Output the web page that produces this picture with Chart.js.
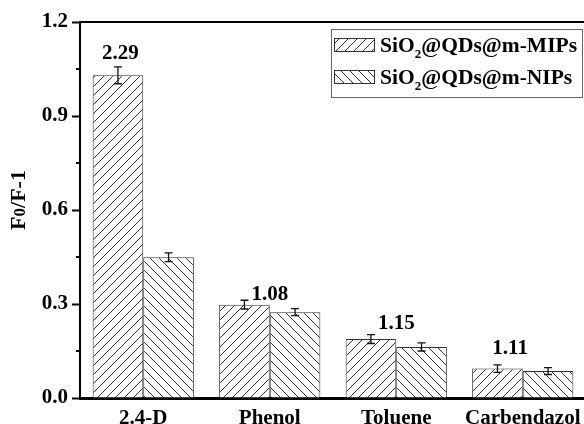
<!DOCTYPE html>
<html>
<head>
<meta charset="utf-8">
<script src="https://cdn.jsdelivr.net/npm/chart.js@4.4.0/dist/chart.umd.min.js"></script>
<style>
    html, body { margin: 0; padding: 0; background: #fff; overflow: hidden; }
    #wrap { width: 584px; height: 424px; overflow: hidden; }
    canvas { display: block; }
</style>
</head>
<body>
<div id="wrap"><canvas id="canvas" width="590" height="424"></canvas></div>
<script>
const categories = ["2.4-D", "Phenol", "Toluene", "Carbendazol"];
const mipValues = [1.03, 0.298, 0.188, 0.094];
const mipErrors = [0.027, 0.014, 0.014, 0.012];
const nipValues = [0.449, 0.274, 0.163, 0.086];
const nipErrors = [0.014, 0.011, 0.013, 0.011];
const ratioLabels = ["2.29", "1.08", "1.15", "1.11"];
const seriesNames = ["MIPs", "NIPs"];

const FONT = "'Liberation Serif', 'Times New Roman', serif";
const INK = "#333";

function hatch(forward) {
    const s = 9;
    const c = document.createElement("canvas");
    c.width = s;
    c.height = s;
    const g = c.getContext("2d");
    g.fillStyle = "#fff";
    g.fillRect(0, 0, s, s);
    g.strokeStyle = INK;
    g.lineWidth = 1;
    g.beginPath();
    for (let k of [-s, 0, s]) {
        if (forward) {
            g.moveTo(k, s);
            g.lineTo(k + s, 0);
        } else {
            g.moveTo(k, 0);
            g.lineTo(k + s, s);
        }
    }
    g.stroke();
    return g.createPattern(c, "repeat");
}

const mipFill = hatch(true);
const nipFill = hatch(false);

// error bars, ratio labels, minor ticks, top frame line
const extras = {
    id: "extras",
    afterDatasetsDraw(chart) {
        const ctx = chart.ctx;
        const y = chart.scales.y;
        const errs = [mipErrors, nipErrors];
        ctx.save();
        ctx.strokeStyle = "#111";
        ctx.lineWidth = 1.3;
        chart.data.datasets.forEach((ds, di) => {
            chart.getDatasetMeta(di).data.forEach((bar, i) => {
                const hi = y.getPixelForValue(ds.data[i] + errs[di][i]);
                const lo = y.getPixelForValue(ds.data[i] - errs[di][i]);
                const x = bar.x;
                ctx.beginPath();
                ctx.moveTo(x, hi); ctx.lineTo(x, lo);
                ctx.moveTo(x - 4, hi); ctx.lineTo(x + 4, hi);
                ctx.moveTo(x - 4, lo); ctx.lineTo(x + 4, lo);
                ctx.stroke();
            });
        });

        // ratio labels above the MIP bars
        const shift = [0.05, 0.5, 0.5, 0.25];
        const lift = [13, 6, 11, 16];
        ctx.fillStyle = "#000";
        ctx.font = "bold 21px " + FONT;
        ctx.textAlign = "center";
        ctx.textBaseline = "middle";
        chart.getDatasetMeta(0).data.forEach((bar, i) => {
            const top = y.getPixelForValue(mipValues[i] + mipErrors[i]);
            ctx.fillText(ratioLabels[i], bar.x + bar.width * shift[i], top - lift[i]);
        });
        ctx.restore();
    },
    afterDraw(chart) {
        const ctx = chart.ctx;
        const a = chart.chartArea;
        const y = chart.scales.y;
        ctx.save();
        ctx.strokeStyle = "#000";
        ctx.lineWidth = 2;
        ctx.beginPath();
        ctx.moveTo(a.left - 1, a.top);
        ctx.lineTo(a.right + 4, a.top);
        for (let v of [0.15, 0.45, 0.75, 1.05]) {
            const py = Math.round(y.getPixelForValue(v));
            ctx.moveTo(a.left - 4, py);
            ctx.lineTo(a.left, py);
        }
        ctx.stroke();

        // y axis title F0/F-1
        ctx.translate(19, 200);
        ctx.rotate(-Math.PI / 2);
        ctx.fillStyle = "#000";
        ctx.textBaseline = "middle";
        ctx.textAlign = "left";
        ctx.font = "bold 22px " + FONT;
        const w1 = ctx.measureText("F").width;
        ctx.font = "bold 17px " + FONT;
        const w2 = ctx.measureText("0").width;
        ctx.font = "bold 22px " + FONT;
        const w3 = ctx.measureText("/F-1").width;
        let x0 = -(w1 + w2 + w3) / 2;
        ctx.fillText("F", x0, 0);
        ctx.font = "bold 17px " + FONT;
        ctx.fillText("0", x0 + w1, 2);
        ctx.font = "bold 22px " + FONT;
        ctx.fillText("/F-1", x0 + w1 + w2, 0);
        ctx.restore();

        // legend box
        ctx.save();
        const bx = a.right - 255, by = 29, bw = 251, bh = 68;
        ctx.strokeStyle = "#666";
        ctx.lineWidth = 1;
        ctx.strokeRect(bx + 0.5, by + 0.5, bw, bh);
        const fills = [mipFill, nipFill];
        seriesNames.forEach((name, i) => {
            const sy = by + 9 + i * 32;
            ctx.fillStyle = fills[i];
            ctx.fillRect(bx + 3, sy, 40, 13);
            ctx.strokeStyle = INK;
            ctx.strokeRect(bx + 3.5, sy + 0.5, 40, 13);
            const base = sy + 14;
            let tx = bx + 49;
            ctx.fillStyle = "#000";
            ctx.textBaseline = "alphabetic";
            ctx.textAlign = "left";
            ctx.font = "bold 21.5px " + FONT;
            ctx.fillText("SiO", tx, base);
            tx += ctx.measureText("SiO").width;
            ctx.font = "bold 13px " + FONT;
            ctx.fillText("2", tx, base + 6);
            tx += ctx.measureText("2").width;
            ctx.font = "bold 21.5px " + FONT;
            ctx.fillText("@QDs@m-" + name, tx, base);
        });
        ctx.restore();
    }
};

const chart = new Chart(document.getElementById("canvas"), {
    type: "bar",
    data: {
        labels: categories,
        datasets: [
            {
                label: "SiO2@QDs@m-MIPs",
                data: mipValues,
                backgroundColor: mipFill,
                borderColor: INK,
                borderWidth: 1
            },
            {
                label: "SiO2@QDs@m-NIPs",
                data: nipValues,
                backgroundColor: nipFill,
                borderColor: INK,
                borderWidth: 1
            }
        ]
    },
    options: {
        responsive: false,
        animation: false,
        layout: { padding: { left: 0, top: 22, right: 4, bottom: 0 } },
        plugins: {
            legend: { display: false },
            tooltip: { enabled: false }
        },
        datasets: {
            bar: { categoryPercentage: 0.8, barPercentage: 1.0 }
        },
        scales: {
            x: {
                grid: { display: false },
                border: { display: true, color: "#000", width: 3 },
                ticks: {
                    color: "#000",
                    padding: 0,
                    font: { family: FONT, size: 21, weight: "bold" }
                },
                afterFit(scale) { scale.height = 26; }
            },
            y: {
                min: 0,
                max: 1.2,
                grid: {
                    drawOnChartArea: false,
                    drawTicks: true,
                    tickLength: 8,
                    tickWidth: 2,
                    color: (c) => (Math.round(c.tick.value * 100) % 30 === 0 ? "#000" : "rgba(0,0,0,0)")
                },
                border: { display: true, color: "#000", width: 2 },
                ticks: {
                    stepSize: 0.15,
                    color: "#000",
                    padding: 4,
                    font: { family: FONT, size: 21, weight: "bold" },
                    callback: (v) => (Math.round(v * 100) % 30 === 0 ? v.toFixed(1) : "")
                },
                afterFit(scale) { scale.width = 80; }
            }
        }
    },
    plugins: [extras]
});
</script>
</body>
</html>
